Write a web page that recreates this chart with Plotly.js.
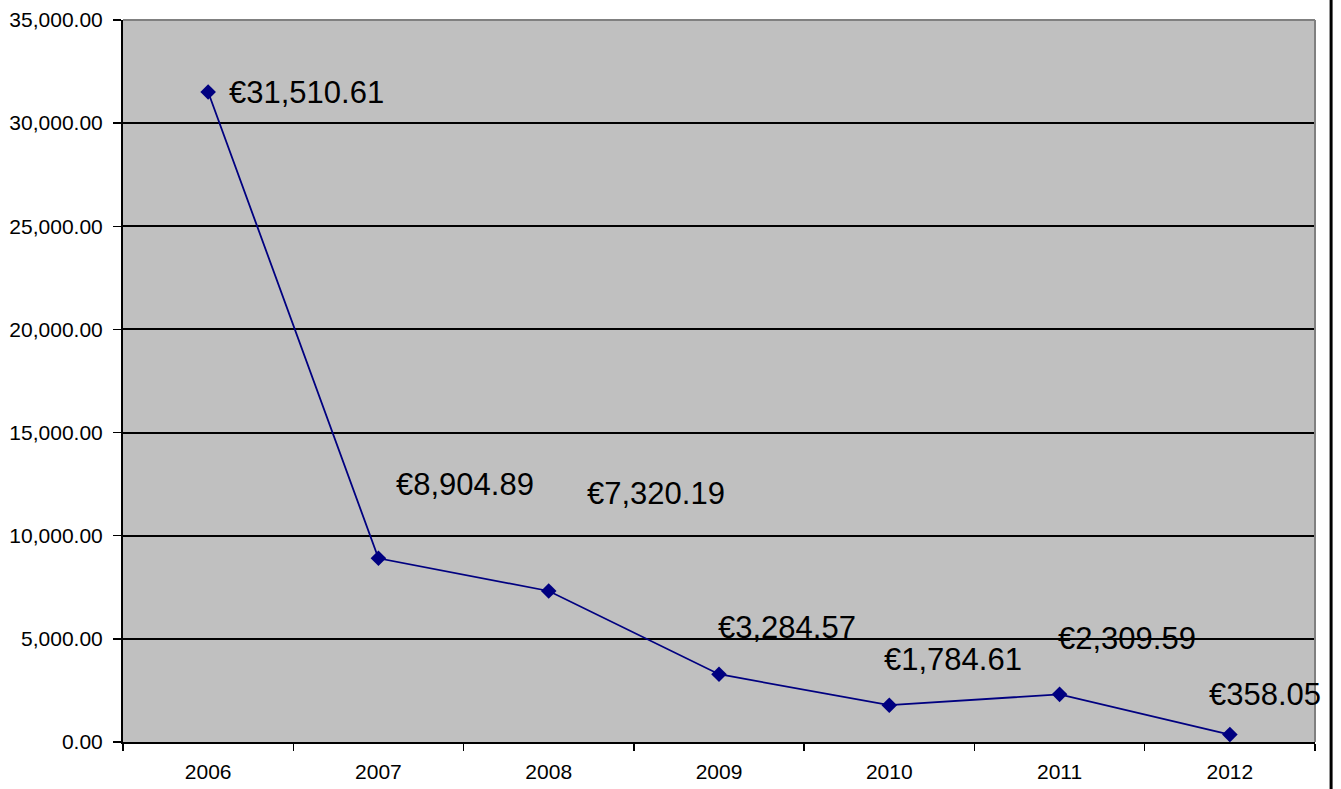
<!DOCTYPE html>
<html>
<head>
<meta charset="utf-8">
<script src="https://cdn.plot.ly/plotly-3.0.1.min.js"></script>
<style>html,body{margin:0;padding:0;background:#fff;}#chart{width:1341px;height:789px;}</style>
</head>
<body>
<div id="chart"></div>
<script>
const years = ["2006", "2007", "2008", "2009", "2010", "2011", "2012"];
const amounts = [31510.61, 8904.89, 7320.19, 3284.57, 1784.61, 2309.59, 358.05];
const labelTexts = ["€31,510.61", "€8,904.89", "€7,320.19", "€3,284.57", "€1,784.61", "€2,309.59", "€358.05"];
// label offsets in pixels (dx, dy) relative to each point, as positioned in the original chart
const labelDx = [98, 87, 107, 68, 64, 67, 35];
const labelDy = [-1, 74, 97, 47, 46, 56, 40];

const trace = {
  x: years,
  y: amounts,
  type: "scatter",
  mode: "lines+markers",
  line: {color: "#000080", width: 1.8},
  marker: {symbol: "diamond", size: 12, color: "#000080"},
  hoverinfo: "x+y"
};

// on a category axis, annotation x is the category's serial index
const annotations = years.map((yr, i) => ({
  x: i, y: amounts[i], xref: "x", yref: "y",
  text: labelTexts[i], showarrow: false,
  xanchor: "center", yanchor: "middle",
  xshift: labelDx[i], yshift: labelDy[i],
  font: {family: "Liberation Sans, Arial, sans-serif", size: 31, color: "#000"}
}));

const layout = {
  width: 1341, height: 789,
  margin: {l: 123, r: 26, t: 20, b: 47},
  paper_bgcolor: "#ffffff",
  plot_bgcolor: "#C0C0C0",
  showlegend: false,
  font: {family: "Liberation Sans, Arial, sans-serif", size: 21, color: "#000"},
  xaxis: {
    type: "category",
    range: [-0.5, 6.5],
    tickson: "boundaries",
    ticks: "outside", ticklen: 7, tickcolor: "#000", tickwidth: 1.5,
    ticklabelstandoff: 10,
    showline: true, linecolor: "#000", linewidth: 2,
    showgrid: false, zeroline: false,
    tickfont: {size: 21}
  },
  yaxis: {
    range: [0, 35000],
    dtick: 5000, tick0: 0,
    tickformat: ",.2f",
    ticks: "outside", ticklen: 8, tickcolor: "#000", tickwidth: 1.5,
    ticklabelstandoff: 6,
    showline: true, linecolor: "#000", linewidth: 2,
    showgrid: true, gridcolor: "#000", gridwidth: 2,
    zeroline: false,
    tickfont: {size: 21}
  },
  annotations: annotations,
  shapes: [
    {type: "line", xref: "paper", yref: "paper", x0: 0, x1: 1, y0: 1, y1: 1, line: {color: "#808080", width: 2}},
    {type: "line", xref: "paper", yref: "paper", x0: 1, x1: 1, y0: 0, y1: 1, line: {color: "#808080", width: 2}},
    {type: "line", xref: "paper", yref: "paper", x0: 1.0135, x1: 1.0135, y0: -0.07, y1: 1.03, line: {color: "#000", width: 3}}
  ]
};

Plotly.newPlot("chart", [trace], layout, {displayModeBar: false, staticPlot: true});
</script>
</body>
</html>
